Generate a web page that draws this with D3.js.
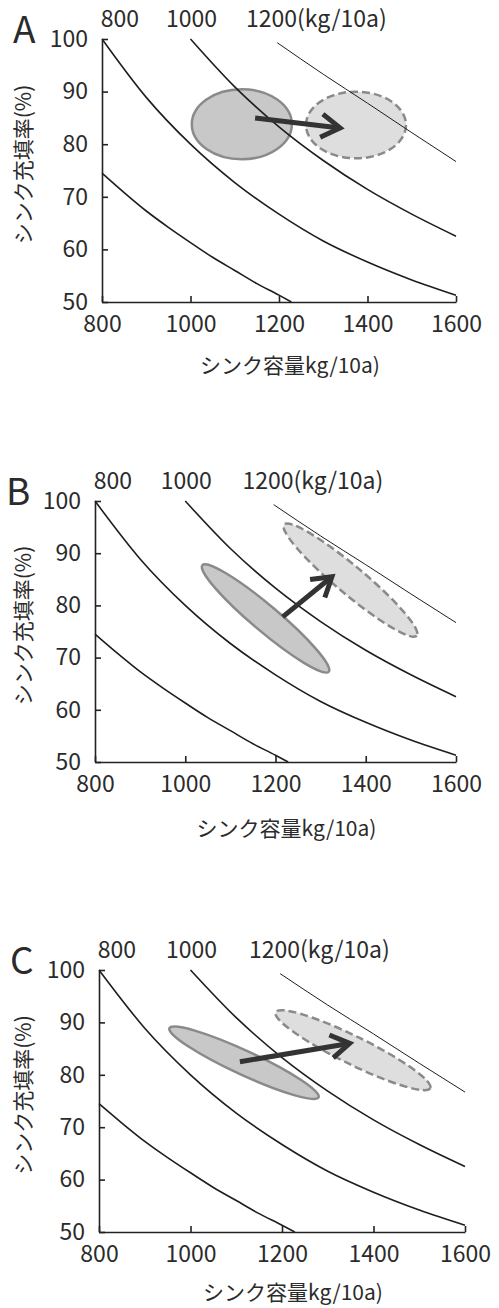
<!DOCTYPE html>
<html>
<head>
<meta charset="utf-8">
<script src="https://cdn.jsdelivr.net/npm/d3@7"></script>
<style>
body{margin:0;background:#fff;}
svg text{font-family:"Noto Sans CJK JP","Noto Sans",sans-serif;fill:#2b2b2b;}
</style>
</head>
<body>
<svg id="chart" width="499" height="1308"></svg>
<script>
// ---- data ----
var panelNames = ["A","B","C"];
var xTicks = [800,1000,1200,1400,1600];
var yTicks = [50,60,70,80,90,100];
var yieldLabels = ["800","1000","1200(kg/10a)"];
var xTitle = "シンク容量kg/10a)";
var yTitle = "シンク充填率(%)";

// iso-yield lines
var line600X  = [800, 850, 900, 950, 1000, 1050, 1100, 1150, 1200, 1228];
var line600Y  = [74.5, 70.8, 67.3, 64.2, 61.3, 58.5, 56.0, 53.5, 51.3, 50];
var line800X  = [800, 900, 1000, 1100, 1200, 1300, 1400, 1500, 1600];
var line800Y  = [100, 88.9, 80, 72.7, 66.7, 61.6, 57.6, 54.2, 51.3];
var line1000X = [1000, 1100, 1200, 1300, 1400, 1500, 1600];
var line1000Y = [100, 90.9, 83.3, 76.9, 71.4, 66.7, 62.5];
var line1200X = [1196, 1300, 1400, 1500, 1600];
var line1200Y = [99.3, 93.3, 87.8, 82.2, 76.7];

// ellipses per panel (A,B,C): centre, end of long axis, short/long ratio
var beforeCX = [1116, 1178, 1117];
var beforeCY = [83.8, 77.5, 82.3];
var beforeTipX = [1229, 1318, 1280];
var beforeTipY = [83.8, 67.3, 75.7];
var beforeRatio = [0.70, 0.157, 0.146];

var afterCX = [1374, 1366, 1355];
var afterCY = [83.65, 84.85, 84.7];
var afterTipX = [1487, 1513, 1524];
var afterTipY = [83.65, 74.2, 77.45];
var afterRatio = [0.666, 0.162, 0.162];

// arrows
var arrowFromX = [1146, 1216, 1108];
var arrowFromY = [85.0, 77.8, 82.5];
var arrowToX = [1338, 1325, 1348];
var arrowToY = [83.1, 85.5, 86.0];

// ---- layout ----
var layout = [
  {x0:102, x1:456, yTop:39,  yBot:302, title:71},
  {x0:95,  x1:456, yTop:501, yBot:762, title:74},
  {x0:99,  x1:465, yTop:970, yBot:1232, title:68}
];

var svg = d3.select("#chart");

function pts(xs, ys){
  return xs.map(function(v,i){ return [v, ys[i]]; });
}

var lines = [
  {d:pts(line600X,line600Y), w:1.6},
  {d:pts(line800X,line800Y), w:1.6},
  {d:pts(line1000X,line1000Y), w:1.6},
  {d:pts(line1200X,line1200Y), w:1.0}
];

panelNames.forEach(function(name, p){
  var L = layout[p];
  var x = d3.scaleLinear().domain([800,1600]).range([L.x0, L.x1]);
  var y = d3.scaleLinear().domain([50,100]).range([L.yBot, L.yTop]);
  var g = svg.append("g");

  // ellipses
  function drawEllipse(cx, cy, tx, ty, ratio, fill, dashed){
    var px = x(cx), py = y(cy);
    var dx = x(tx)-px, dy = y(ty)-py;
    var a = Math.sqrt(dx*dx+dy*dy);
    var ang = Math.atan2(dy,dx)*180/Math.PI;
    g.append("ellipse")
      .attr("transform","translate("+px+","+py+") rotate("+ang+")")
      .attr("rx",a).attr("ry",a*ratio)
      .attr("fill",fill)
      .attr("stroke","#8a8a8a")
      .attr("stroke-width",2.5)
      .attr("stroke-dasharray",dashed ? "8 4" : null);
  }
  drawEllipse(beforeCX[p],beforeCY[p],beforeTipX[p],beforeTipY[p],beforeRatio[p],"#c8c8c8",false);
  drawEllipse(afterCX[p],afterCY[p],afterTipX[p],afterTipY[p],afterRatio[p],"#dedede",true);

  // iso-yield lines
  var lineGen = d3.line()
    .x(function(d){ return x(d[0]); })
    .y(function(d){ return y(d[1]); })
    .curve(d3.curveMonotoneX);
  lines.forEach(function(l){
    g.append("path")
      .attr("d",lineGen(l.d))
      .attr("fill","none")
      .attr("stroke","#1e1e1e")
      .attr("stroke-width",l.w);
  });

  // axes
  var xAxis = d3.axisBottom(x).tickValues(xTicks).tickFormat(d3.format("d"))
    .tickSizeInner(-6).tickSizeOuter(0).tickPadding(14);
  var yAxis = d3.axisLeft(y).tickValues(yTicks).tickFormat(d3.format("d"))
    .tickSizeInner(-6).tickSizeOuter(0).tickPadding(14);
  var gx = g.append("g").attr("transform","translate(0,"+L.yBot+")").call(xAxis);
  var gy = g.append("g").attr("transform","translate("+L.x0+",0)").call(yAxis);
  [gx,gy].forEach(function(a){
    a.selectAll("path,line").attr("stroke","#222").attr("stroke-width",1.6);
    a.selectAll("text").attr("font-size","23px").attr("fill","#2b2b2b")
      .style("font-family","\"Noto Sans CJK JP\",sans-serif");
  });

  // arrow
  var ax0 = x(arrowFromX[p]), ay0 = y(arrowFromY[p]);
  var ax1 = x(arrowToX[p]), ay1 = y(arrowToY[p]);
  var th = Math.atan2(ay1-ay0, ax1-ax0);
  var hl = 22, ha = 32*Math.PI/180;
  g.append("line")
    .attr("x1",ax0).attr("y1",ay0).attr("x2",ax1-2*Math.cos(th)).attr("y2",ay1-2*Math.sin(th))
    .attr("stroke","#333").attr("stroke-width",5);
  g.append("path")
    .attr("d","M"+(ax1-hl*Math.cos(th-ha))+","+(ay1-hl*Math.sin(th-ha))+
              "L"+ax1+","+ay1+
              "L"+(ax1-hl*Math.cos(th+ha))+","+(ay1-hl*Math.sin(th+ha)))
    .attr("fill","none").attr("stroke","#333").attr("stroke-width",5)
    .attr("stroke-linejoin","miter");

  // yield labels on top
  g.append("text").attr("x",x(800)+18).attr("y",L.yTop-12)
    .attr("text-anchor","middle").attr("font-size","23px").text(yieldLabels[0]);
  g.append("text").attr("x",x(1000)+1).attr("y",L.yTop-12)
    .attr("text-anchor","middle").attr("font-size","23px").text(yieldLabels[1]);
  g.append("text").attr("x",x(1200)-33).attr("y",L.yTop-12)
    .attr("font-size","23px").text(yieldLabels[2]);

  // panel letter
  g.append("text").attr("x",L.x0-89).attr("y",L.yTop+4)
    .attr("font-size","37px").text(name);

  // axis titles
  var midY = (L.yTop+L.yBot)/2 - 6;
  g.append("text")
    .attr("transform","translate(24,"+midY+") rotate(-90)")
    .attr("text-anchor","middle").attr("dy","0.35em")
    .attr("font-size","21px").text(yTitle);
  g.append("text")
    .attr("x",(L.x0+L.x1)/2+11).attr("y",L.yBot+L.title)
    .attr("text-anchor","middle").attr("font-size","21px").text(xTitle);
});
</script>
</body>
</html>
